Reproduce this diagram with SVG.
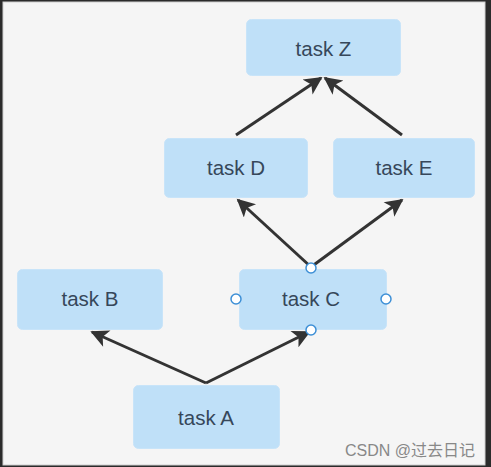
<svg xmlns="http://www.w3.org/2000/svg" width="491" height="467" viewBox="0 0 491 467">
<defs>
<style>
.node rect{fill:#bfe0f8;stroke:#c8e4f9;stroke-width:1}
.node text{font-family:"Liberation Sans",Arial,sans-serif;font-size:20.5px;fill:#36475a;text-anchor:middle;dominant-baseline:central}
.edge{stroke:#333;stroke-width:3;fill:none;marker-end:url(#arr)}
.handle{fill:#fff;stroke:#3d8fd6;stroke-width:1.5}
</style>
<marker id="arr" viewBox="0 0 10 10" refX="9" refY="5" markerWidth="7" markerHeight="6" orient="auto" markerUnits="strokeWidth">
<path d="M0,0 L10,5 L0,10 L2.5,5 Z" fill="#333"/>
</marker>
</defs>
<rect x="0" y="0" width="491" height="467" fill="#2b2b2b"/>
<rect x="3" y="2" width="482" height="463" fill="#f5f5f5" stroke="#cfcfcf" stroke-width="1"/>
<g id="connectors">
<line class="edge" x1="206" y1="383" x2="92" y2="332"/>
<line class="edge" x1="206" y1="383" x2="309" y2="332"/>
<line class="edge" x1="311" y1="267" x2="238" y2="200"/>
<line class="edge" x1="311" y1="267" x2="402" y2="200"/>
<line class="edge" x1="236" y1="135" x2="321" y2="78"/>
<line class="edge" x1="402" y1="135" x2="325" y2="78"/>
</g>
<g id="taskZ" class="node"><rect x="246.500" y="19.500" width="154" height="56" rx="5"/><text x="323.500" y="48">task Z</text></g>
<g id="taskD" class="node"><rect x="164.500" y="138.500" width="143" height="59" rx="5"/><text x="236" y="167">task D</text></g>
<g id="taskE" class="node"><rect x="333.500" y="138.500" width="141" height="59" rx="5"/><text x="404" y="167">task E</text></g>
<g id="taskB" class="node"><rect x="17.500" y="269.500" width="145" height="60" rx="5"/><text x="90" y="298">task B</text></g>
<g id="taskC" class="node"><rect x="239.500" y="269.500" width="147" height="60" rx="5"/><text x="311" y="298">task C</text>
<circle class="handle" cx="311" cy="268" r="5"/><circle class="handle" cx="236" cy="299" r="5"/><circle class="handle" cx="386" cy="299" r="5"/><circle class="handle" cx="311" cy="330" r="5"/></g>
<g id="taskA" class="node"><rect x="133.500" y="385.500" width="146" height="63" rx="5"/><text x="206" y="417">task A</text></g>
<text x="475" y="456" font-family="'Liberation Sans','Noto Sans CJK SC',sans-serif" font-size="16" fill="#888" text-anchor="end">CSDN @过去日记</text>
</svg>
